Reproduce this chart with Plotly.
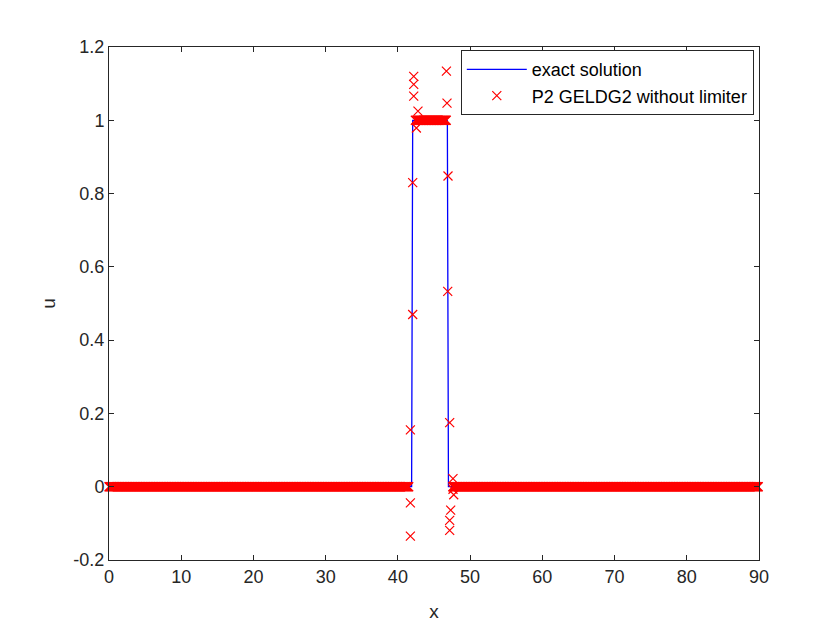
# advection test: exact step vs P2 GELDG2 (no limiter)

import numpy as np
import plotly.graph_objects as go

# exact solution (step between ~42 and ~47)
exact_x = [0, 41.9, 42.05, 46.85, 47.0, 90]
exact_u = [0, 0, 1, 1, 0, 0]

# numerical solution: flat parts on the mesh nodes (spacing 0.1)
mesh_h = 0.1
flat_left_x = np.arange(0, 41.5 + 1e-9, mesh_h)
flat_left_u = [0.0] * len(flat_left_x)
flat_top_x = np.arange(42.6, 46.7 + 1e-9, mesh_h)
flat_top_u = [1.0] * len(flat_top_x)
flat_right_x = np.arange(47.6, 90 + 1e-9, mesh_h)
flat_right_u = [0.0] * len(flat_right_x)

# oscillations around the two jumps
osc_x = [41.73, 41.73, 41.73, 42.05, 42.05, 42.19, 42.19, 42.19, 42.78, 42.42, 42.56,
         46.72, 46.80, 46.94, 46.90, 47.17, 47.63, 47.63, 47.73, 47.31, 47.17, 47.17]
osc_u = [0.155, -0.044, -0.135, 0.47, 0.83, 1.120, 1.098, 1.066, 1.025, 1.0, 0.979,
         1.134, 1.047, 0.848, 0.533, 0.175, 0.022, -0.007, -0.022, -0.064, -0.092, -0.119]

num_x = list(flat_left_x) + osc_x[:11] + list(flat_top_x) + osc_x[11:] + list(flat_right_x)
num_u = flat_left_u + osc_u[:11] + flat_top_u + osc_u[11:] + flat_right_u

y_ticks = [-0.2, 0, 0.2, 0.4, 0.6, 0.8, 1, 1.2]
y_ticktext = ["-0.2", "0", "0.2", "0.4", "0.6", "0.8", "1", "1.2"]
x_ticks = [0, 10, 20, 30, 40, 50, 60, 70, 80, 90]

axis_col = "#262626"
font_fam = "Arial, Liberation Sans, Helvetica, sans-serif"

fig = go.Figure()

fig.add_trace(go.Scatter(
    x=exact_x, y=exact_u, mode="lines",
    name="exact solution",
    line=dict(color="#0000ff", width=1.3)))

fig.add_trace(go.Scatter(
    x=num_x, y=num_u, mode="markers",
    name="P2 GELDG2 without limiter",
    cliponaxis=False,
    marker=dict(symbol="x-thin", size=9, color="#ff0000",
                line=dict(color="#ff0000", width=1.2))))

axis_common = dict(
    showline=True, linecolor=axis_col, linewidth=1,
    mirror="ticks", ticks="inside", ticklen=5, tickcolor=axis_col,
    showgrid=False, zeroline=False,
    tickfont=dict(size=18, color=axis_col, family=font_fam),
)

fig.update_xaxes(range=[0, 90], tickvals=x_ticks,
                 title=dict(text="x", font=dict(size=19, color=axis_col, family=font_fam), standoff=19),
                 **axis_common)
fig.update_yaxes(range=[-0.2, 1.2], tickvals=y_ticks, ticktext=y_ticktext,
                 title=dict(text="u", font=dict(size=19, color=axis_col, family=font_fam), standoff=12),
                 **axis_common)

# the page body adds 8px on the left and top, margins account for it
fig.update_layout(
    width=840, height=630,
    margin=dict(l=101, r=89, t=39, b=78),
    paper_bgcolor="white", plot_bgcolor="white",
    font=dict(family=font_fam, color="black"),
    legend=dict(
        x=0.992, y=0.994, xanchor="right", yanchor="top",
        bgcolor="white", bordercolor=axis_col, borderwidth=1,
        font=dict(size=18, color="black", family=font_fam),
        tracegroupgap=0, itemwidth=60,
    ),
)

fig.write_html("out.html")
